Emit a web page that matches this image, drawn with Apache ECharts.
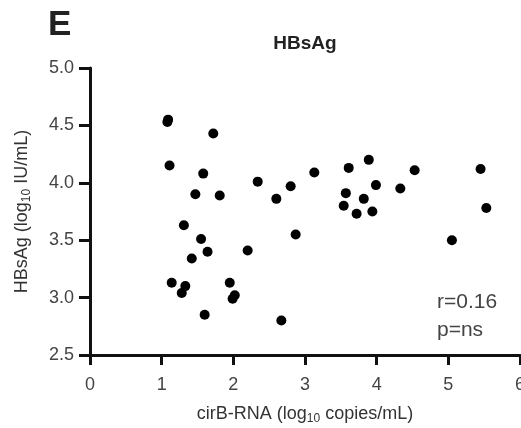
<!DOCTYPE html>
<html>
<head>
<meta charset="utf-8">
<script src="https://cdn.jsdelivr.net/npm/echarts@6/dist/echarts.min.js"></script>
<style>
  html, body { margin: 0; padding: 0; background: #fff; }
  #hbsag-corr { width: 521px; height: 428px; }
</style>
</head>
<body>
<div id="hbsag-corr"></div>
<script>
// cirB-RNA (log10 copies/mL) vs HBsAg (log10 IU/mL), one entry per patient
var cirbRna = [1.09, 1.08, 1.72, 1.11, 1.58, 2.34, 2.80, 1.47, 1.81, 2.60,
  1.31, 2.87, 1.55, 1.64, 2.20, 1.42, 1.14, 1.33, 1.28, 1.95,
  2.02, 1.99, 1.60, 2.67, 3.13, 3.61, 3.89, 3.57, 3.99, 3.82,
  3.54, 3.72, 3.94, 4.33, 4.53, 5.45, 5.53, 5.05];
var hbsag = [4.55, 4.53, 4.43, 4.15, 4.08, 4.01, 3.97, 3.90, 3.89, 3.86,
  3.63, 3.55, 3.51, 3.40, 3.41, 3.34, 3.13, 3.10, 3.04, 3.13,
  3.02, 2.99, 2.85, 2.80, 4.09, 4.13, 4.20, 3.91, 3.98, 3.86,
  3.80, 3.73, 3.75, 3.95, 4.11, 4.12, 3.78, 3.50];
var xTicks = [0, 1, 2, 3, 4, 5, 6];
var yTicks = [2.5, 3.0, 3.5, 4.0, 4.5, 5.0];
var panelLetter = "E";
var panelTitle = "HBsAg";
var statR = "r=0.16";
var statP = "p=ns";

var font = "Liberation Sans, Arial, sans-serif";
var points = [];
for (var i = 0; i < cirbRna.length; i++) {
  points.push([cirbRna[i], hbsag[i]]);
}

// subscript "10" in the axis names
var nameRich = {
  a: { fontFamily: font, fontSize: 18, color: "#333", lineHeight: 22 },
  s: { fontFamily: font, fontSize: 12, color: "#333", lineHeight: 22, verticalAlign: "bottom" }
};

var chart = echarts.init(document.getElementById("hbsag-corr"));
var option = {
  animation: false,
  backgroundColor: "#fff",
  // keep the plot box fixed; the "6" label is allowed to run off the edge
  grid: { left: 90, right: 1, top: 68, bottom: 73, containLabel: false, outerBoundsMode: "none" },
  graphic: [
    { type: "text", left: 48, top: 8,
      style: { text: panelLetter, font: "bold 35px " + font, fill: "#222" } },
    { type: "text", x: 305, y: 44,
      style: { text: panelTitle, font: "bold 19px " + font, fill: "#222",
        align: "center", verticalAlign: "middle" } },
    { type: "text", x: 437, y: 302,
      style: { text: statR, font: "21px " + font, fill: "#444",
        align: "left", verticalAlign: "middle" } },
    { type: "text", x: 437, y: 330,
      style: { text: statP, font: "21px " + font, fill: "#444",
        align: "left", verticalAlign: "middle" } }
  ],
  xAxis: {
    type: "value",
    min: xTicks[0],
    max: xTicks[xTicks.length - 1],
    interval: 1,
    name: "{a|cirB-RNA (log}{s|10}{a| copies/mL)}",
    nameLocation: "middle",
    nameGap: 48,
    nameTextStyle: { rich: nameRich },
    axisLine: { lineStyle: { color: "#111", width: 3 } },
    axisTick: { inside: false, length: 10, lineStyle: { color: "#111", width: 3 } },
    axisLabel: { color: "#444", fontFamily: font, fontSize: 18, margin: 21 },
    splitLine: { show: false }
  },
  yAxis: {
    type: "value",
    min: yTicks[0],
    max: yTicks[yTicks.length - 1],
    interval: 0.5,
    name: "{a|HBsAg (log}{s|10}{a| IU/mL)}",
    nameLocation: "middle",
    nameGap: 57,
    nameTextStyle: { rich: nameRich },
    axisLine: { show: true, lineStyle: { color: "#111", width: 3 } },
    axisTick: { show: true, inside: false, length: 11, lineStyle: { color: "#111", width: 3 } },
    axisLabel: {
      color: "#444", fontFamily: font, fontSize: 18, margin: 16,
      formatter: function (v) { return v.toFixed(1); }
    },
    splitLine: { show: false }
  },
  series: [
    {
      type: "scatter",
      data: points,
      symbol: "circle",
      symbolSize: 10,
      itemStyle: { color: "#000", opacity: 1 }
    }
  ]
};
chart.setOption(option);
window.addEventListener("resize", function () {
  chart.resize();
});
</script>
</body>
</html>
